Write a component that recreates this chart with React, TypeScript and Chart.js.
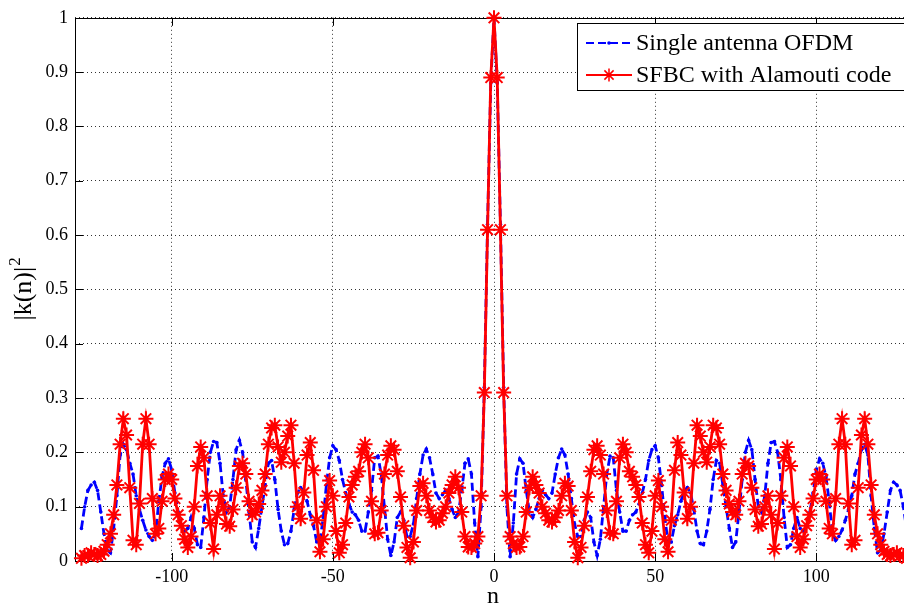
import React, { useEffect, useRef } from "react";
import { Chart, registerables } from "chart.js";

Chart.register(...registerables);

// n = -128 .. 128
const nValues: number[] = Array.from({ length: 257 }, (_, i) => i - 128);

// Single antenna OFDM, |k(n)|^2 for n = -128 .. 128
const singleAntennaOFDM: number[] = [
  0.06, 0.1, 0.13, 0.14, 0.145, 0.13, 0.09, 0.05, 0.02, 0.015,
  0.06, 0.12, 0.195, 0.215, 0.205, 0.18, 0.16, 0.12, 0.095, 0.075,
  0.057, 0.045, 0.038, 0.05, 0.11, 0.155, 0.18, 0.188, 0.168, 0.125,
  0.09, 0.065, 0.055, 0.06, 0.08, 0.06, 0.03, 0.025, 0.08, 0.15,
  0.2, 0.22, 0.218, 0.18, 0.12, 0.09, 0.1, 0.15, 0.205, 0.222,
  0.2, 0.15, 0.09, 0.035, 0.025, 0.06, 0.1, 0.14, 0.18, 0.185,
  0.15, 0.095, 0.055, 0.03, 0.032, 0.055, 0.095, 0.125, 0.135, 0.13,
  0.11, 0.085, 0.065, 0.035, 0.035, 0.08, 0.14, 0.19, 0.212, 0.205,
  0.185, 0.15, 0.125, 0.105, 0.09, 0.085, 0.075, 0.055, 0.055, 0.09,
  0.13, 0.19, 0.193, 0.16, 0.1, 0.04, 0.01, 0.035, 0.08, 0.09,
  0.075, 0.045, 0.045, 0.068, 0.115, 0.16, 0.195, 0.206, 0.19, 0.16,
  0.125, 0.115, 0.122, 0.13, 0.115, 0.095, 0.08, 0.09, 0.13, 0.18,
  0.188, 0.16, 0.07, 0.008, 0.1, 0.32, 0.62, 0.88,
  1.0,
  0.88, 0.62, 0.32, 0.1, 0.008, 0.07, 0.16, 0.188, 0.18, 0.13,
  0.09, 0.08, 0.095, 0.115, 0.13, 0.122, 0.115, 0.125, 0.16, 0.19,
  0.206, 0.195, 0.16, 0.115, 0.068, 0.045, 0.045, 0.075, 0.09, 0.08,
  0.035, 0.01, 0.04, 0.1, 0.16, 0.193, 0.19, 0.13, 0.09, 0.055,
  0.055, 0.075, 0.085, 0.09, 0.105, 0.125, 0.15, 0.185, 0.205, 0.212,
  0.19, 0.14, 0.08, 0.035, 0.035, 0.065, 0.085, 0.11, 0.13, 0.135,
  0.125, 0.095, 0.055, 0.032, 0.03, 0.055, 0.095, 0.15, 0.185, 0.18,
  0.14, 0.1, 0.06, 0.025, 0.035, 0.09, 0.15, 0.2, 0.222, 0.205,
  0.15, 0.1, 0.09, 0.12, 0.18, 0.218, 0.22, 0.2, 0.15, 0.08,
  0.025, 0.03, 0.06, 0.08, 0.06, 0.055, 0.065, 0.09, 0.125, 0.168,
  0.188, 0.18, 0.155, 0.11, 0.05, 0.038, 0.045, 0.057, 0.075, 0.095,
  0.12, 0.16, 0.18, 0.205, 0.215, 0.195, 0.12, 0.06, 0.015, 0.02,
  0.05, 0.09, 0.13, 0.145, 0.14, 0.13, 0.1, 0.06,
];

// SFBC with Alamouti code, |k(n)|^2 for n = -128 .. 128
const sfbcAlamouti: number[] = [
  0.005, 0.01, 0.01, 0.015, 0.012, 0.01, 0.012, 0.018, 0.03, 0.05,
  0.085, 0.14, 0.215, 0.262, 0.232, 0.135, 0.038, 0.03, 0.106, 0.215,
  0.262, 0.215, 0.115, 0.05, 0.06, 0.11, 0.15, 0.16, 0.15, 0.115,
  0.085, 0.065, 0.04, 0.025, 0.045, 0.1, 0.175, 0.21, 0.19, 0.12,
  0.07, 0.022, 0.085, 0.12, 0.1, 0.068, 0.064, 0.095, 0.135, 0.175,
  0.18, 0.16, 0.11, 0.085, 0.09, 0.105, 0.13, 0.16, 0.215, 0.245,
  0.25, 0.21, 0.182, 0.2, 0.23, 0.25, 0.18, 0.1, 0.078, 0.126,
  0.195, 0.218, 0.167, 0.075, 0.017, 0.04, 0.1, 0.148, 0.12, 0.055,
  0.015, 0.03, 0.07, 0.118, 0.14, 0.155, 0.165, 0.2, 0.215, 0.19,
  0.11, 0.05, 0.052, 0.093, 0.16, 0.195, 0.212, 0.205, 0.165, 0.118,
  0.065, 0.025, 0.006, 0.035, 0.093, 0.138, 0.143, 0.12, 0.093, 0.08,
  0.072, 0.075, 0.088, 0.1, 0.125, 0.14, 0.155, 0.135, 0.09, 0.045,
  0.026, 0.025, 0.032, 0.045, 0.12, 0.31, 0.61, 0.89,
  1.0,
  0.89, 0.61, 0.31, 0.12, 0.045, 0.032, 0.025, 0.026, 0.045, 0.09,
  0.135, 0.155, 0.14, 0.125, 0.1, 0.088, 0.075, 0.072, 0.08, 0.093,
  0.12, 0.143, 0.138, 0.093, 0.035, 0.006, 0.025, 0.065, 0.118, 0.165,
  0.205, 0.212, 0.195, 0.16, 0.093, 0.052, 0.05, 0.11, 0.19, 0.215,
  0.2, 0.165, 0.155, 0.14, 0.118, 0.07, 0.03, 0.015, 0.055, 0.12,
  0.148, 0.1, 0.04, 0.017, 0.075, 0.167, 0.218, 0.195, 0.126, 0.078,
  0.1, 0.18, 0.25, 0.23, 0.2, 0.182, 0.21, 0.25, 0.245, 0.215,
  0.16, 0.13, 0.105, 0.09, 0.085, 0.11, 0.16, 0.18, 0.175, 0.135,
  0.095, 0.064, 0.068, 0.1, 0.12, 0.085, 0.022, 0.07, 0.12, 0.19,
  0.21, 0.175, 0.1, 0.045, 0.025, 0.04, 0.065, 0.085, 0.115, 0.15,
  0.16, 0.15, 0.11, 0.06, 0.05, 0.115, 0.215, 0.262, 0.215, 0.106,
  0.03, 0.038, 0.135, 0.232, 0.262, 0.215, 0.14, 0.085, 0.05, 0.03,
  0.018, 0.012, 0.01, 0.012, 0.015, 0.01, 0.01, 0.005,
];

const xTickValues: number[] = [-100, -50, 0, 50, 100];
const yTickValues: number[] = [0, 0.1, 0.2, 0.3, 0.4, 0.5, 0.6, 0.7, 0.8, 0.9, 1];
const legendLabels: string[] = ["Single antenna OFDM", "SFBC with Alamouti code"];
const xTitle = "n";
const yTitleMain = "|k(n)|";
const yTitleSup = "2";

const SERIF = "'Liberation Serif', 'Times New Roman', serif";
const BLUE = "#0000ff";
const RED = "#ff0000";

const matlabPlugin = {
  id: "matlabDecor",
  beforeDatasetsDraw(chart: any) {
    const { ctx, chartArea } = chart;
    const { left, right, top, bottom } = chartArea;
    const xs = chart.scales.x;
    const ys = chart.scales.y;
    ctx.save();
    ctx.strokeStyle = "#000";
    ctx.lineWidth = 1;
    ctx.setLineDash([]);
    ctx.beginPath();
    const tl = 8;
    xTickValues.forEach((v) => {
      const px = Math.round(xs.getPixelForValue(v)) + 0.5;
      ctx.moveTo(px, bottom);
      ctx.lineTo(px, bottom - tl);
      ctx.moveTo(px, top);
      ctx.lineTo(px, top + tl);
    });
    yTickValues.forEach((v) => {
      const py = Math.round(ys.getPixelForValue(v)) + 0.5;
      ctx.moveTo(left, py);
      ctx.lineTo(left + tl, py);
      ctx.moveTo(right, py);
      ctx.lineTo(right - tl, py);
    });
    ctx.stroke();
    ctx.strokeRect(Math.round(left) + 0.5, Math.round(top) + 0.5, Math.round(right - left), Math.round(bottom - top));
    ctx.restore();
  },
  afterDraw(chart: any) {
    const { ctx, chartArea } = chart;
    ctx.save();
    // axis titles
    ctx.fillStyle = "#000";
    ctx.font = `24px ${SERIF}`;
    ctx.textAlign = "center";
    ctx.textBaseline = "middle";
    ctx.fillText(xTitle, 493, 597);

    ctx.save();
    ctx.translate(22, (chartArea.top + chartArea.bottom) / 2);
    ctx.rotate(-Math.PI / 2);
    ctx.font = `26px ${SERIF}`;
    const wMain = ctx.measureText(yTitleMain).width;
    ctx.font = `17px ${SERIF}`;
    const wSup = ctx.measureText(yTitleSup).width;
    const total = wMain + wSup;
    ctx.textAlign = "left";
    ctx.textBaseline = "alphabetic";
    ctx.font = `26px ${SERIF}`;
    ctx.fillText(yTitleMain, -total / 2, 9);
    ctx.font = `17px ${SERIF}`;
    ctx.fillText(yTitleSup, -total / 2 + wMain + 1, -2);
    ctx.restore();

    // legend
    const bx = 577.5, by = 23.5, bw = 340, bh = 67;
    ctx.fillStyle = "#fff";
    ctx.fillRect(bx, by, bw, bh);
    ctx.strokeStyle = "#000";
    ctx.lineWidth = 1;
    ctx.setLineDash([]);
    ctx.strokeRect(bx, by, bw, bh);

    const x0 = 586, x1 = 632, xm = 609;
    const rows = [43, 75];
    // row 1: blue dashed with dot
    ctx.strokeStyle = BLUE;
    ctx.lineWidth = 2;
    ctx.setLineDash([8, 4]);
    ctx.beginPath();
    ctx.moveTo(x0, rows[0]);
    ctx.lineTo(x1, rows[0]);
    ctx.stroke();
    ctx.setLineDash([]);
    ctx.fillStyle = BLUE;
    ctx.beginPath();
    ctx.arc(xm, rows[0], 1.8, 0, Math.PI * 2);
    ctx.fill();
    // row 2: red solid with star
    ctx.strokeStyle = RED;
    ctx.lineWidth = 2;
    ctx.beginPath();
    ctx.moveTo(x0, rows[1]);
    ctx.lineTo(x1, rows[1]);
    ctx.stroke();
    ctx.lineWidth = 1.5;
    ctx.beginPath();
    const r = 6.5;
    for (let k = 0; k < 4; k++) {
      const a = (k * Math.PI) / 4;
      ctx.moveTo(xm - r * Math.cos(a), rows[1] - r * Math.sin(a));
      ctx.lineTo(xm + r * Math.cos(a), rows[1] + r * Math.sin(a));
    }
    ctx.stroke();

    ctx.fillStyle = "#000";
    ctx.font = `24px ${SERIF}`;
    ctx.textAlign = "left";
    ctx.textBaseline = "middle";
    ctx.fillText(legendLabels[0], 636, rows[0] + 1);
    ctx.fillText(legendLabels[1], 636, rows[1] + 1);
    ctx.restore();
  },
};

export default function App() {
  const canvasRef = useRef<HTMLCanvasElement | null>(null);

  useEffect(() => {
    const canvas = canvasRef.current;
    if (!canvas) return;
    const blueData = nValues.map((n, i) => ({ x: n, y: singleAntennaOFDM[i] }));
    const redData = nValues.map((n, i) => ({ x: n, y: sfbcAlamouti[i] }));

    const chart = new Chart(canvas, {
      type: "line",
      data: {
        datasets: [
          {
            label: legendLabels[1],
            data: redData,
            borderColor: RED,
            backgroundColor: RED,
            borderWidth: 2.8,
            pointStyle: "star",
            pointRadius: 7.5,
            pointBorderColor: RED,
            pointBorderWidth: 2,
            tension: 0,
            order: 0,
            clip: false,
          } as any,
          {
            label: legendLabels[0],
            data: blueData,
            borderColor: BLUE,
            backgroundColor: BLUE,
            borderWidth: 2.8,
            borderDash: [8, 4],
            pointStyle: "circle",
            pointRadius: 1.8,
            pointBackgroundColor: BLUE,
            pointBorderWidth: 0,
            tension: 0,
            order: 1,
          } as any,
        ],
      },
      options: {
        responsive: false,
        animation: false,
        devicePixelRatio: 1,
        layout: { padding: { top: 15, right: 17, left: 0, bottom: 0 } },
        plugins: {
          legend: { display: false },
          tooltip: { enabled: false },
          title: { display: false },
        },
        scales: {
          x: {
            type: "linear",
            min: -130,
            max: 130,
            afterBuildTicks: (scale: any) => {
              scale.ticks = xTickValues.map((v) => ({ value: v }));
            },
            afterFit: (scale: any) => {
              scale.height = 48;
            },
            ticks: {
              color: "#000",
              font: { family: SERIF, size: 18 },
              padding: 5,
              maxRotation: 0,
              autoSkip: false,
              callback: (v: any) => String(v),
            },
            grid: {
              color: "rgba(0,0,0,0.8)",
              lineWidth: 1,
              drawTicks: false,
            },
            border: { display: false, dash: [1, 3] },
          },
          y: {
            type: "linear",
            min: 0,
            max: 1,
            afterBuildTicks: (scale: any) => {
              scale.ticks = yTickValues.map((v) => ({ value: v }));
            },
            afterFit: (scale: any) => {
              scale.width = 75;
            },
            ticks: {
              color: "#000",
              font: { family: SERIF, size: 18 },
              padding: 7,
              autoSkip: false,
              callback: (v: any) => String(Math.round(Number(v) * 10) / 10),
            },
            grid: {
              color: "rgba(0,0,0,0.8)",
              lineWidth: 1,
              drawTicks: false,
            },
            border: { display: false, dash: [1, 3] },
          },
        },
      } as any,
      plugins: [matlabPlugin],
    });

    return () => {
      chart.destroy();
    };
  }, []);

  return (
    <div
      style={{
        position: "fixed",
        left: 0,
        top: 0,
        width: 904,
        height: 609,
        overflow: "hidden",
        background: "#fff",
      }}
    >
      <canvas ref={canvasRef} width={930} height={609} style={{ display: "block" }} />
    </div>
  );
}
